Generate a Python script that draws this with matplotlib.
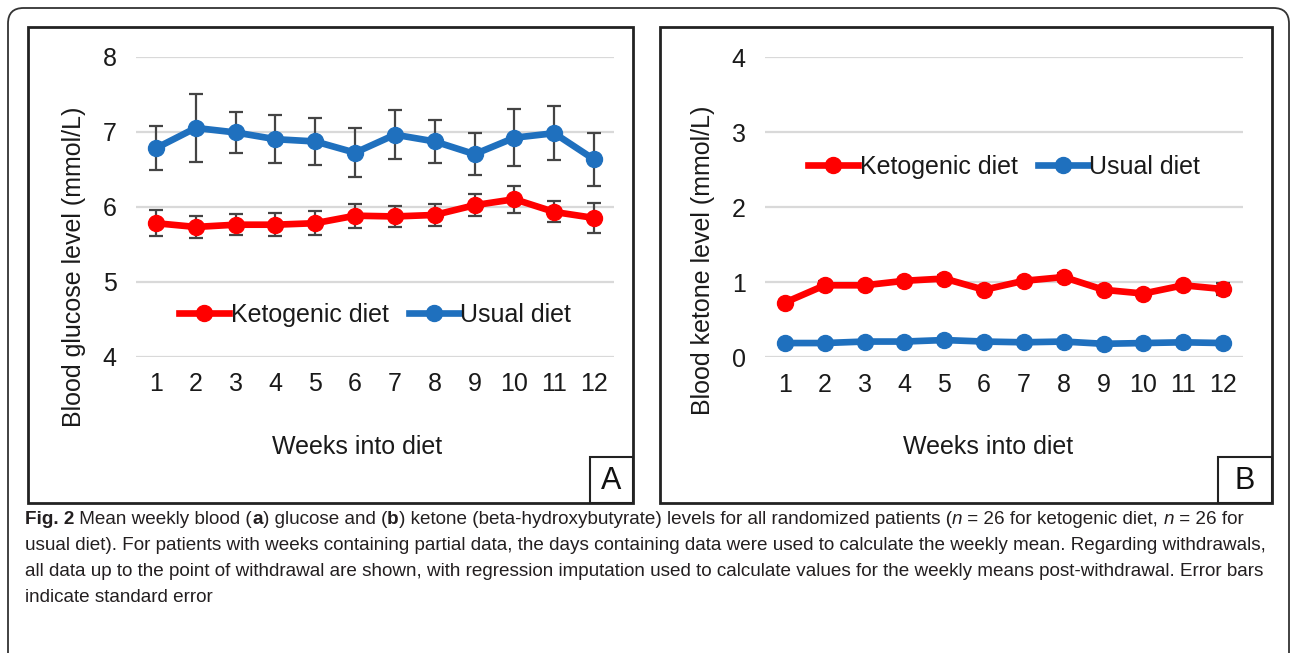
import matplotlib
matplotlib.use('Agg')
from matplotlib import pyplot as plt
from matplotlib.patches import FancyBboxPatch, Rectangle
import numpy as np

weeks = list(range(1, 13))

# panel A: blood glucose (mmol/L)
glu_keto = [5.78, 5.73, 5.76, 5.76, 5.78, 5.88, 5.87, 5.89, 6.02, 6.10, 5.93, 5.85]
glu_keto_se = [0.17, 0.15, 0.14, 0.15, 0.16, 0.16, 0.14, 0.15, 0.15, 0.18, 0.14, 0.20]
glu_usual = [6.78, 7.05, 6.99, 6.90, 6.87, 6.72, 6.96, 6.87, 6.70, 6.92, 6.98, 6.63]
glu_usual_se = [0.29, 0.45, 0.27, 0.32, 0.31, 0.33, 0.33, 0.29, 0.28, 0.38, 0.36, 0.35]

# panel B: blood ketone (mmol/L)
ket_keto = [0.73, 0.96, 0.96, 1.02, 1.05, 0.90, 1.02, 1.07, 0.90, 0.85, 0.96, 0.91]
ket_keto_se = [0.03, 0.06, 0.05, 0.04, 0.05, 0.04, 0.04, 0.05, 0.04, 0.04, 0.05, 0.08]
ket_usual = [0.19, 0.19, 0.21, 0.21, 0.23, 0.21, 0.20, 0.21, 0.18, 0.19, 0.20, 0.19]
ket_usual_se = [0.01, 0.01, 0.01, 0.01, 0.01, 0.01, 0.01, 0.01, 0.01, 0.01, 0.01, 0.01]

labels = ['Ketogenic diet', 'Usual diet']
colors = ['#ff0000', '#1f70be']

caption = [
    [('Fig. 2', 'bold', 'normal'), (' Mean weekly blood (', 'normal', 'normal'), ('a', 'bold', 'normal'),
     (') glucose and (', 'normal', 'normal'), ('b', 'bold', 'normal'),
     (') ketone (beta-hydroxybutyrate) levels for all randomized patients (', 'normal', 'normal'),
     ('n', 'normal', 'italic'), (' = 26 for ketogenic diet, ', 'normal', 'normal'),
     ('n', 'normal', 'italic'), (' = 26 for', 'normal', 'normal')],
    [('usual diet). For patients with weeks containing partial data, the days containing data were used to calculate the weekly mean. Regarding withdrawals,', 'normal', 'normal')],
    [('all data up to the point of withdrawal are shown, with regression imputation used to calculate values for the weekly means post-withdrawal. Error bars', 'normal', 'normal')],
    [('indicate standard error', 'normal', 'normal')],
]

W, H = 1292, 653
FS = 18


def fx(px):
    return px / W


def fy(py):
    return 1 - py / H


def draw_panel(fig, ax, yketo, yketo_se, yusual, yusual_se, ylim, ylabel, xl_x, yl_x, yl_y):
    ax.set_facecolor('none')
    for s in ax.spines.values():
        s.set_visible(False)
    ax.set_xlim(0.5, 12.5)
    ax.set_ylim(*ylim)
    ax.set_yticks(np.arange(ylim[0], ylim[1] + 1))
    ax.set_xticks(weeks)
    ax.tick_params(length=0, labelsize=FS, colors='#1a1a1a')
    ax.tick_params(axis='y', pad=14)
    ax.tick_params(axis='x', pad=11)
    ax.grid(axis='y', color='#d9d9d9', lw=1.6)
    ax.set_axisbelow(True)

    for y, se, c, lab in [(yketo, yketo_se, colors[0], labels[0]), (yusual, yusual_se, colors[1], labels[1])]:
        ax.errorbar(weeks, y, yerr=se, fmt='none', ecolor='#444444', elinewidth=1.6,
                    capsize=5, capthick=1.6, zorder=2)
        ax.plot(weeks, y, color=c, lw=4.8, marker='o', ms=11.5, label=lab, zorder=3)

    fig.text(fx(xl_x), fy(447), 'Weeks into diet', ha='center', va='center', fontsize=FS, color='#1a1a1a')
    fig.text(fx(yl_x), fy(yl_y), ylabel, ha='center', va='center', rotation=90, fontsize=FS, color='#1a1a1a')


def draw_caption(fig, lines, x0, y0, dy):
    fig.canvas.draw()
    r = fig.canvas.get_renderer()
    for i, runs in enumerate(lines):
        x = x0
        for s, w, st in runs:
            t = fig.text(fx(x), fy(y0 + i * dy), s, ha='left', va='center', fontsize=13.6,
                         fontweight=w, fontstyle=st, color='#231f20')
            x += t.get_window_extent(r).width


def main():
    plt.rcParams['font.family'] = ['Liberation Sans', 'DejaVu Sans']
    fig = plt.figure(figsize=(W / 100, H / 100), dpi=100)

    # outer rounded frame
    fig.patches.append(FancyBboxPatch((fx(8), fy(680)), fx(1281), 672 / H,
                                      boxstyle='round,pad=0,rounding_size=0.012',
                                      transform=fig.transFigure, fill=False,
                                      ec='#333333', lw=1.3, mutation_aspect=W / H))
    # panel frames and letter boxes
    for x0, x1, bx, letter in [(28, 633, 590, 'A'), (660, 1272, 1218, 'B')]:
        fig.patches.append(Rectangle((fx(x0), fy(503)), fx(x1 - x0), 476 / H,
                                     transform=fig.transFigure, fill=False, ec='#222222', lw=2))
        fig.patches.append(Rectangle((fx(bx), fy(503)), fx(x1 - bx), 46 / H,
                                     transform=fig.transFigure, fill=False, ec='#222222', lw=1.5))
        fig.text(fx((bx + x1) / 2), fy(481), letter, ha='center', va='center', fontsize=22, color='#111111')

    ax1 = fig.add_axes([fx(136), fy(356.7), fx(478), 300 / H])
    draw_panel(fig, ax1, glu_keto, glu_keto_se, glu_usual, glu_usual_se, (4, 8),
               'Blood glucose level (mmol/L)', 357, 74, 267)
    ax1.legend(loc='center', bbox_to_anchor=(0.5, 0.14), ncol=2, frameon=False, fontsize=FS,
               handlelength=2.0, handletextpad=0.05, columnspacing=0.8, labelcolor='#1a1a1a')

    ax2 = fig.add_axes([fx(765), fy(357.3), fx(478), 300 / H])
    draw_panel(fig, ax2, ket_keto, ket_keto_se, ket_usual, ket_usual_se, (0, 4),
               'Blood ketone level (mmol/L)', 988, 703, 260)
    ax2.legend(loc='center', bbox_to_anchor=(0.5, 0.635), ncol=2, frameon=False, fontsize=FS,
               handlelength=2.0, handletextpad=0.05, columnspacing=0.8, labelcolor='#1a1a1a')

    draw_caption(fig, caption, 25, 519, 26.3)

    fig.savefig('out.png', dpi=100)


if __name__ == '__main__':
    main()
